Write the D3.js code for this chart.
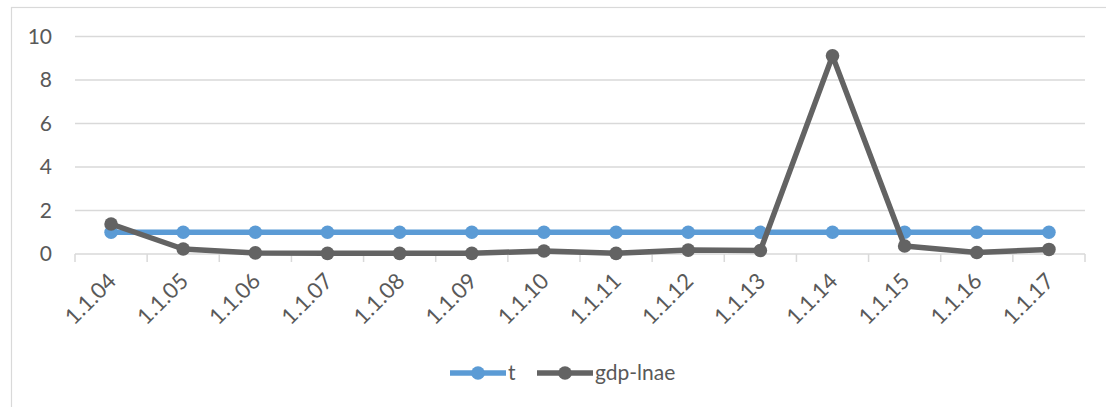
<!DOCTYPE html>
<html><head><meta charset="utf-8">
<script src="https://cdn.jsdelivr.net/npm/d3@7"></script>
<style>
html,body{margin:0;padding:0;background:#fff;}
svg{display:block;font-family:Lato,"Open Sans",sans-serif;}
</style></head>
<body>
<svg id="c" width="1106" height="407"></svg>
<script>
const categories = ["1.1.04","1.1.05","1.1.06","1.1.07","1.1.08","1.1.09","1.1.10","1.1.11","1.1.12","1.1.13","1.1.14","1.1.15","1.1.16","1.1.17"];
const seriesT = [1,1,1,1,1,1,1,1,1,1,1,1,1,1];
const seriesGdp = [1.38,0.23,0.05,0.03,0.03,0.03,0.14,0.03,0.18,0.16,9.11,0.37,0.07,0.21];
const yTicks = [0,2,4,6,8,10];
const seriesNames = ["t","gdp-lnae"];
const colors = ["#5B9BD5","#636363"];

const svg = d3.select("#c");
svg.append("rect").attr("x",11.5).attr("y",7.5).attr("width",1110).attr("height",420)
  .attr("fill","none").attr("stroke","#d9d9d9").attr("stroke-width",1.2);

const x = d3.scaleBand().domain(categories).range([75,1085]);
const y = d3.scaleLinear().domain([0,10]).range([254,36.5]);

// gridlines
svg.append("g").selectAll("line").data(yTicks.filter(d=>d>0)).join("line")
  .attr("x1",75).attr("x2",1085).attr("y1",d=>y(d)).attr("y2",d=>y(d))
  .attr("stroke","#d9d9d9").attr("stroke-width",1.5);

// y axis labels
const yAxis = d3.axisLeft(y).tickValues(yTicks).tickSize(0).tickPadding(0);
const gy = svg.append("g").attr("transform","translate(52,0)").call(yAxis);
gy.select(".domain").remove();
gy.selectAll("text").attr("font-size",21).attr("fill","#595959").attr("font-family","Lato");

// x axis line & ticks
svg.append("line").attr("x1",75).attr("x2",1085).attr("y1",254).attr("y2",254)
  .attr("stroke","#d9d9d9").attr("stroke-width",1.5);
const bounds = categories.map(c=>x(c)).concat([1085]);
svg.append("g").selectAll("line").data(bounds).join("line")
  .attr("x1",d=>d).attr("x2",d=>d).attr("y1",254).attr("y2",262)
  .attr("stroke","#d9d9d9").attr("stroke-width",1.5);

// x labels
svg.append("g").selectAll("text").data(categories).join("text")
  .attr("transform",d=>`translate(${x(d)+x.bandwidth()/2+1},${277}) rotate(-45)`)
  .attr("text-anchor","end").attr("dy","0.35em")
  .attr("font-size",22).attr("fill","#595959").text(d=>d);

const cx = d=>x(d)+x.bandwidth()/2;
const line = d3.line().x((d,i)=>cx(categories[i])).y(d=>y(d));
[seriesT, seriesGdp].forEach((s,k)=>{
  const g = svg.append("g");
  g.append("path").datum(s).attr("d",line).attr("fill","none")
    .attr("stroke",colors[k]).attr("stroke-width",5.5).attr("stroke-linejoin","round");
  g.selectAll("circle").data(s).join("circle")
    .attr("cx",(d,i)=>cx(categories[i])).attr("cy",d=>y(d)).attr("r",6.8)
    .attr("fill",colors[k]);
});

// legend
const leg = [{x1:450,x2:506,tx:508},{x1:537,x2:593,tx:595}];
leg.forEach((l,k)=>{
  svg.append("line").attr("x1",l.x1).attr("x2",l.x2).attr("y1",373).attr("y2",373)
    .attr("stroke",colors[k]).attr("stroke-width",5.5);
  svg.append("circle").attr("cx",(l.x1+l.x2)/2).attr("cy",373).attr("r",6.8).attr("fill",colors[k]);
  svg.append("text").attr("x",l.tx).attr("y",373).attr("dy","0.35em")
    .attr("font-size",21).attr("fill","#595959").text(seriesNames[k]);
});
</script>
</body></html>
